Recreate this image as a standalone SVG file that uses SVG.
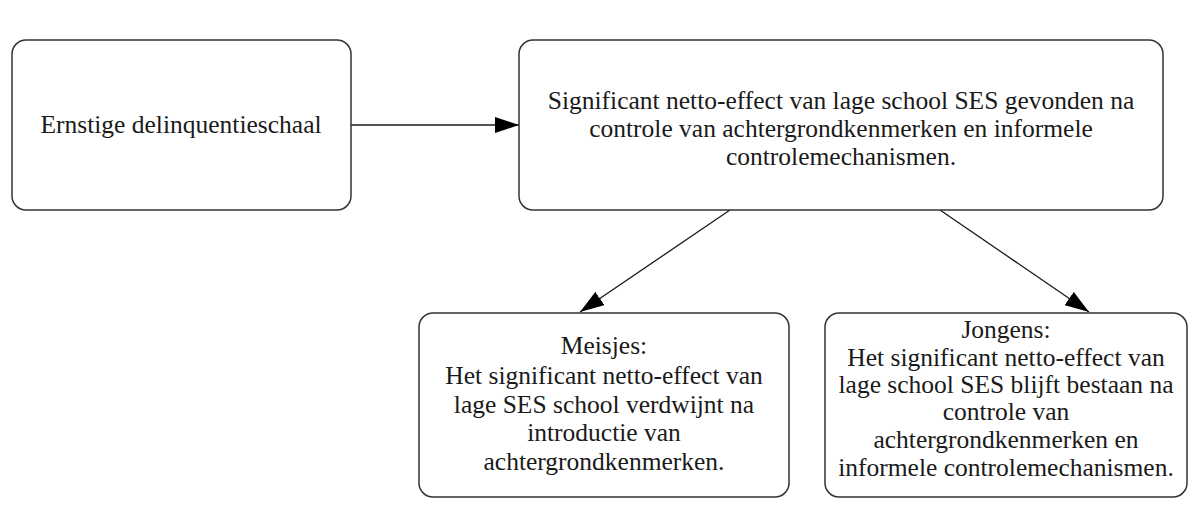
<svg xmlns="http://www.w3.org/2000/svg" width="1201" height="527" viewBox="0 0 1201 527">
<style>
.box{fill:#ffffff;stroke:#333333;stroke-width:1.5}
.t{font-family:"Liberation Serif","Times New Roman",serif;font-size:25.5px;fill:#1a1a1a;text-anchor:middle}
.c{stroke:#1a1a1a;stroke-width:1.3;fill:none}
</style>
<defs>
<marker id="ah2" markerWidth="24" markerHeight="16" refX="24" refY="8" orient="auto" markerUnits="userSpaceOnUse">
<path d="M0,0 L24,8 L0,16 z" fill="#000"/>
</marker>
</defs>
<rect width="1201" height="527" fill="#ffffff"/>
<g id="connectors">
<line class="c" x1="351" y1="125" x2="519" y2="125" marker-end="url(#ah2)"/>
<line class="c" x1="730" y1="210" x2="580" y2="312" marker-end="url(#ah2)"/>
<line class="c" x1="940" y1="210" x2="1089" y2="312" marker-end="url(#ah2)"/>
</g>
<g id="node1">
<rect class="box" x="12" y="40" width="339" height="170" rx="14"/>
<text class="t" x="181" y="133">Ernstige delinquentieschaal</text>
</g>
<g id="node2">
<rect class="box" x="519" y="40" width="644" height="170" rx="14"/>
<text class="t" x="841" y="109">Significant netto-effect van lage school SES gevonden na</text>
<text class="t" x="841" y="137">controle van achtergrondkenmerken en informele</text>
<text class="t" x="841" y="165">controlemechanismen.</text>
</g>
<g id="node3">
<rect class="box" x="419" y="313" width="370" height="184" rx="14"/>
<text class="t" x="604" y="354">Meisjes:</text>
<text class="t" x="604" y="384">Het significant netto-effect van</text>
<text class="t" x="604" y="413">lage SES school verdwijnt na</text>
<text class="t" x="604" y="441">introductie van</text>
<text class="t" x="604" y="470">achtergrondkenmerken.</text>
</g>
<g id="node4">
<rect class="box" x="825" y="313" width="362" height="184" rx="14"/>
<text class="t" x="1006" y="338">Jongens:</text>
<text class="t" x="1006" y="366">Het significant netto-effect van</text>
<text class="t" x="1006" y="393">lage school SES blijft bestaan na</text>
<text class="t" x="1006" y="420">controle van</text>
<text class="t" x="1006" y="448">achtergrondkenmerken en</text>
<text class="t" x="1006" y="476">informele controlemechanismen.</text>
</g>
</svg>
